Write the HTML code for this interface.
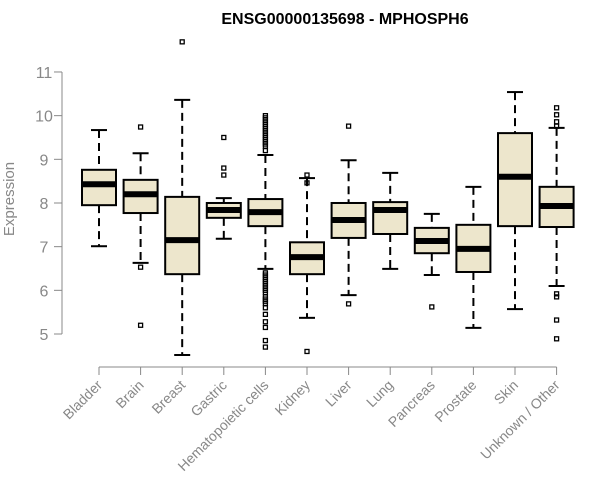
<!DOCTYPE html>
<html><head><meta charset="utf-8">
<style>
html,body{margin:0;padding:0;background:#fff;}
svg{display:block;font-family:"Liberation Sans",Arial,sans-serif;}
</style></head>
<body>
<svg id="chart" width="600" height="500"></svg>
<script>
const categories=["Bladder","Brain","Breast","Gastric","Hematopoietic cells","Kidney","Liver","Lung","Pancreas","Prostate","Skin","Unknown / Other"];
const whiskerLow=[7.01,6.63,4.52,7.18,6.49,5.37,5.89,6.49,6.35,5.14,5.57,6.10];
const q1=[7.95,7.77,6.37,7.66,7.47,6.37,7.20,7.29,6.85,6.42,7.47,7.45];
const medians=[8.43,8.20,7.15,7.84,7.79,6.76,7.61,7.84,7.13,6.95,8.60,7.93];
const q3=[8.76,8.53,8.14,8.00,8.09,7.10,8.00,8.02,7.43,7.50,9.60,8.37];
const whiskerHigh=[9.67,9.14,10.36,8.11,9.10,8.57,8.98,8.69,7.75,8.37,10.54,9.72];
const outliers=[[],[9.74,6.53,5.20],[11.69],[9.50,8.80,8.64],
 [9.2,9.3,9.35,9.4,9.45,9.5,9.55,9.6,9.65,9.7,9.75,9.8,9.85,9.9,9.95,10.0,
  6.4,6.35,6.3,6.25,6.2,6.15,6.1,6.05,6.0,5.95,5.85,5.8,5.75,5.7,5.6,5.45,5.28,5.15,4.85,4.70],
 [8.64,8.46,4.60],[9.76,5.69],[],[5.62],[],[],[10.18,10.02,9.86,9.76,5.92,5.85,5.32,4.89]];
const yTicks=[5,6,7,8,9,10,11];

const NS="http://www.w3.org/2000/svg";
const svg=document.getElementById('chart');
function y(v){return 334-(v-5)*43.67;}
function x(i){return 99+i*41.6;}
function mk(tag,attrs,parent){const e=document.createElementNS(NS,tag);for(const k in attrs)e.setAttribute(k,attrs[k]);(parent||svg).appendChild(e);return e;}

const title=mk('text',{x:345,y:24,'text-anchor':'middle','font-size':16,'font-weight':'bold',fill:'#000'});
title.textContent="ENSG00000135698 - MPHOSPH6";



const ya=mk('g',{});


mk('line',{x1:62,x2:62,y1:y(yTicks[0]),y2:y(yTicks[yTicks.length-1]),stroke:'#888','stroke-width':1},ya);
yTicks.forEach(t=>{
  mk('line',{x1:54,x2:62,y1:y(t),y2:y(t),stroke:'#888'},ya);
  const tx=mk('text',{x:44,y:y(t)+6,'text-anchor':'middle','font-size':16,fill:'#888'},ya);
  tx.textContent=t;
  
  
});
const yt=mk('text',{x:0,y:0,transform:'translate(14,199) rotate(-90)','text-anchor':'middle','font-size':15,fill:'#888'});
yt.textContent="Expression";



const xa=mk('g',{});


mk('line',{x1:x(0),x2:x(categories.length-1),y1:367,y2:367,stroke:'#888'},xa);
categories.forEach((c,i)=>{
  mk('line',{x1:x(i),x2:x(i),y1:367,y2:375,stroke:'#888'},xa);
  const tx=mk('text',{x:0,y:0,transform:`translate(${x(i)+4},${386}) rotate(-45)`,'text-anchor':'end','font-size':14,fill:'#888'},xa);
  tx.textContent=c;
  
  
});

categories.forEach((c,i)=>{
  const g=mk('g',{});
  
  
  const cx=x(i),hw=17,cw=8;
  mk('line',{x1:cx,x2:cx,y1:y(whiskerHigh[i]),y2:y(q3[i]),stroke:'#000','stroke-width':2,'stroke-dasharray':'8,5'},g);
  mk('line',{x1:cx,x2:cx,y1:y(q1[i]),y2:y(whiskerLow[i]),stroke:'#000','stroke-width':2,'stroke-dasharray':'8,5'},g);
  mk('line',{x1:cx-cw,x2:cx+cw,y1:y(whiskerHigh[i]),y2:y(whiskerHigh[i]),stroke:'#000','stroke-width':2},g);
  mk('line',{x1:cx-cw,x2:cx+cw,y1:y(whiskerLow[i]),y2:y(whiskerLow[i]),stroke:'#000','stroke-width':2},g);
  mk('rect',{x:cx-hw,y:y(q3[i]),width:2*hw,height:y(q1[i])-y(q3[i]),fill:'#ede6cc',stroke:'#000','stroke-width':2},g);
  mk('line',{x1:cx-hw,x2:cx+hw,y1:y(medians[i]),y2:y(medians[i]),stroke:'#000','stroke-width':6},g);
  outliers[i].forEach(v=>{
    const p=mk('rect',{x:cx-2,y:y(v)-2,width:4,height:4,fill:'none',stroke:'#000','stroke-width':1.3},g);
    
    
  });
});
</script>
</body></html>
